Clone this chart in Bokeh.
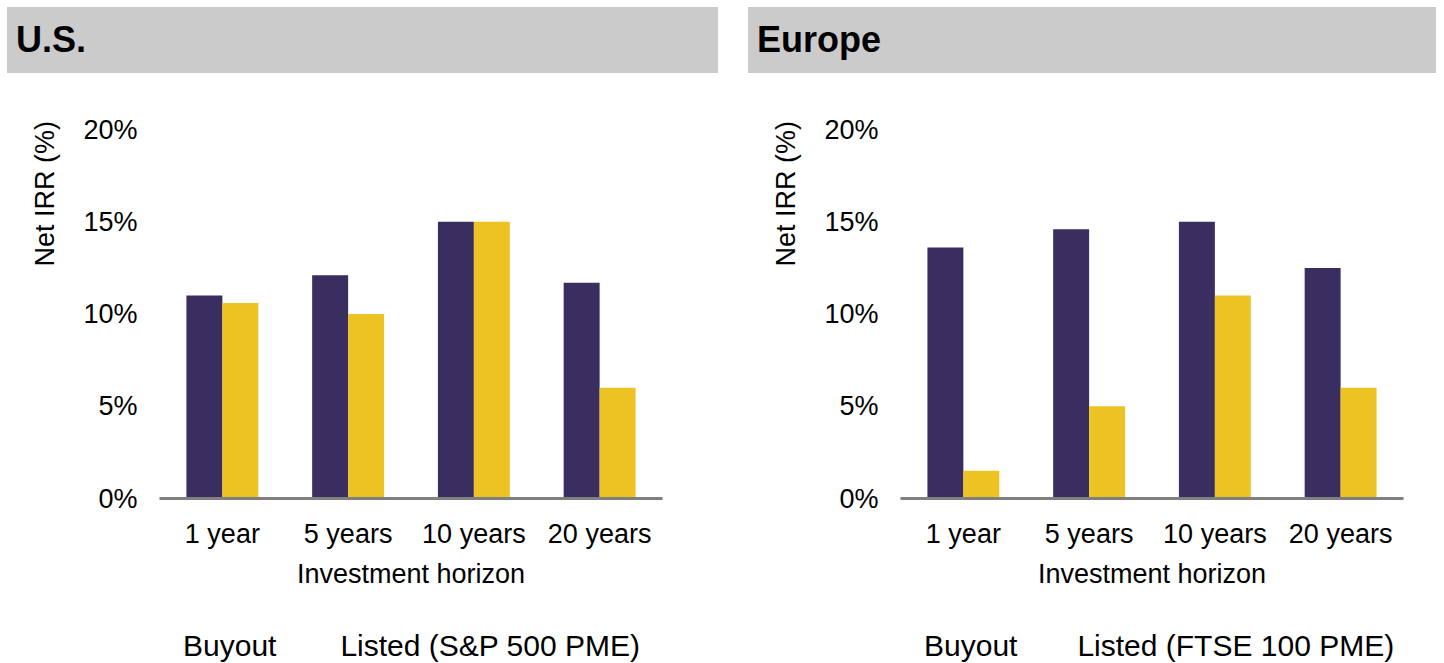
from bokeh.plotting import figure
from bokeh.models import (ColumnDataSource, FactorRange, Range1d, Legend, Div, Title,
                          LegendItem, PrintfTickFormatter, FixedTicker)
from bokeh.transform import dodge
from bokeh.layouts import row, column
from bokeh.embed import file_html
from bokeh.resources import INLINE

# ---- data ----
horizons = ["1 year", "5 years", "10 years", "20 years"]
us_buyout = [11.0, 12.1, 15.0, 11.7]
us_listed = [10.6, 10.0, 15.0, 6.0]
eu_buyout = [13.6, 14.6, 15.0, 12.5]
eu_listed = [1.5, 5.0, 11.0, 6.0]
y_ticks = [0, 5, 10, 15, 20]
panel_titles = ["U.S.", "Europe"]
buyout_name = "Buyout"
listed_names = ["Listed (S&P 500 PME)", "Listed (FTSE 100 PME)"]
x_title = "Investment horizon"
y_title = "Net IRR  (%)"

FONT = "Liberation Sans"
PURPLE = "#3A2D60"
YELLOW = "#EDC324"
GRAY = "#CBCBCB"
AXIS_GRAY = "#808080"


def make_header(title, width, margin_left, band_width):
    html = (f'<div style="margin:7px 0 0 {margin_left}px; width:{band_width}px; height:66px; '
            f'background-color:{GRAY}; box-sizing:border-box; padding-left:9px; '
            f'line-height:66px; font-family:\'{FONT}\', Arial, sans-serif; font-size:36px; '
            f'font-weight:bold; color:black; white-space:nowrap;">{title}</div>')
    return Div(text=html, width=width, height=73, margin=0)


def make_panel(title, buyout, listed, listed_name, width, border_left, header_ml,
               band_width, legend_spacing):
    header = make_header(title, width, header_ml, band_width)
    border_right = width - border_left - 503

    src = ColumnDataSource(dict(h=horizons, buyout=buyout, listed=listed))
    p = figure(frame_width=503, frame_height=369,
               x_range=FactorRange(*horizons, range_padding=0),
               y_range=Range1d(0, 20), toolbar_location=None, output_backend="svg",
               min_border_left=border_left, min_border_right=border_right,
               min_border_top=56, min_border_bottom=100, outline_line_color=None)
    p.vbar(x=dodge("h", -0.143, range=p.x_range), top="buyout", width=0.286,
           source=src, fill_color=PURPLE, line_color=None)
    p.vbar(x=dodge("h", 0.143, range=p.x_range), top="listed", width=0.286,
           source=src, fill_color=YELLOW, line_color=None)

    p.xgrid.visible = False
    p.ygrid.visible = False

    yax = p.yaxis[0]
    yax.ticker = FixedTicker(ticks=y_ticks)
    yax.formatter = PrintfTickFormatter(format="%d%%")
    yax.axis_line_color = None
    yax.major_tick_line_color = None
    yax.minor_tick_line_color = None
    yax.major_tick_out = 0
    yax.major_tick_in = 0
    yax.minor_tick_out = 0
    yax.major_label_standoff = 22
    yax.major_label_text_font = FONT
    yax.major_label_text_font_size = "27px"
    yax.major_label_text_color = "black"

    xax = p.xaxis[0]
    xax.axis_line_color = AXIS_GRAY
    xax.axis_line_width = 3
    xax.major_tick_line_color = None
    xax.minor_tick_line_color = None
    xax.major_tick_out = 0
    xax.major_tick_in = 0
    xax.major_label_standoff = 20
    xax.major_label_text_font = FONT
    xax.major_label_text_font_size = "27px"
    xax.major_label_text_color = "black"
    xax.axis_label = x_title
    xax.axis_label_text_font = FONT
    xax.axis_label_text_font_size = "27px"
    xax.axis_label_text_font_style = "normal"
    xax.axis_label_text_color = "black"
    xax.axis_label_standoff = 7

    p.add_layout(Title(text=y_title, align="right", offset=-16, standoff=41,
                       text_font=FONT, text_font_size="27px", text_font_style="normal",
                       text_color="black"), "left")

    # legend strip: a frameless figure directly under the chart
    lg = figure(width=width, height=65, x_range=Range1d(0, 1), y_range=Range1d(0, 1),
                toolbar_location=None, output_backend="svg",
                x_axis_location=None, y_axis_location=None,
                min_border_left=border_left, min_border_right=border_right,
                min_border_top=0, min_border_bottom=0, outline_line_color=None)
    lg.grid.visible = False
    empty = ColumnDataSource(dict(x=[], top=[]))
    k1 = lg.vbar(x="x", top="top", width=0.1, source=empty,
                 fill_color=PURPLE, line_color=None)
    k2 = lg.vbar(x="x", top="top", width=0.1, source=empty,
                 fill_color=YELLOW, line_color=None)
    legend = Legend(items=[LegendItem(label=buyout_name, renderers=[k1]),
                           LegendItem(label=listed_name, renderers=[k2])],
                    location=(0, 0), orientation="horizontal",
                    border_line_color=None, background_fill_alpha=0,
                    padding=0, margin=0, spacing=legend_spacing,
                    glyph_width=18, glyph_height=18, label_standoff=6,
                    label_text_font=FONT, label_text_font_size="30px",
                    label_text_color="black")
    lg.add_layout(legend)
    return column(header, p, lg)


left = make_panel(panel_titles[0], us_buyout, us_listed, listed_names[0],
                  748, 159, 7, 711, 40)
right = make_panel(panel_titles[1], eu_buyout, eu_listed, listed_names[1],
                   696, 152, 0, 688, 36)
layout = row(left, right)

open("out.html", "w").write(file_html(layout, INLINE))
